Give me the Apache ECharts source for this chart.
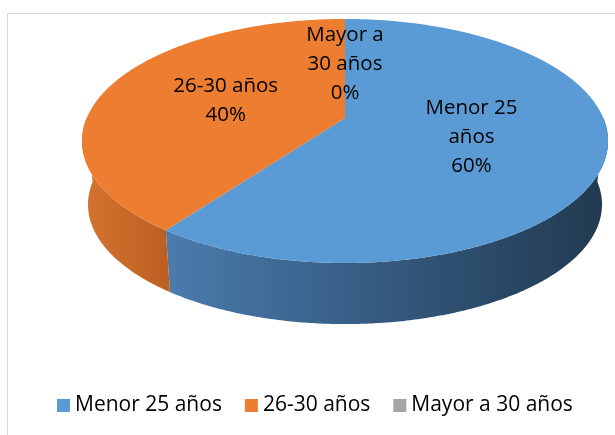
<!DOCTYPE html>
<html>
<head>
<meta charset="utf-8">
<script src="https://cdn.jsdelivr.net/npm/echarts@6/dist/echarts.min.js"></script>
<style>
  html, body { margin: 0; padding: 0; background: #fff; }
  #chart { width: 615px; height: 435px; }
</style>
</head>
<body>
<div id="chart"></div>
<script>
// datos del gráfico
const categories = ['Menor 25 años', '26-30 años', 'Mayor a 30 años'];
const labelLines = ['Menor 25\naños', '26-30 años', 'Mayor a\n30 años'];
const values = [60, 40, 0];
const colors = ['#5b9bd5', '#ed7d31', '#a5a5a5'];

// geometría del pastel 3D (perspectiva)
const CX = 345, CY = 118;
const A = 258.3, B = 117.7, K = 0.1885;
const DEPTH = 64, A2 = 252.4, B2 = 115.3;
const FONT = '"Open Sans", "Noto Sans", sans-serif';

const sideFills = [
    { type: 'linear', x: 165, y: 0, x2: 605, y2: 0, global: true,
      colorStops: [{ offset: 0, color: '#4a7cad' }, { offset: 0.5, color: '#35597f' }, { offset: 1, color: '#213a50' }] },
    { type: 'linear', x: 82, y: 0, x2: 172, y2: 0, global: true,
      colorStops: [{ offset: 0, color: '#d47431' }, { offset: 1, color: '#bc5e21' }] },
    '#7f7f7f'
];

const total = values.reduce((s, v) => s + v, 0);

function project(theta, r, bottom) {
    const u = Math.sin(theta) * r;
    const v = -Math.cos(theta) * r;
    const w = 1 - K * v;
    return bottom ? [CX + A2 * u / w, CY + DEPTH + B2 * v / w] : [CX + A * u / w, CY + B * v / w];
}

function arc(a, b, bottom) {
    const pts = [];
    const n = Math.max(2, Math.ceil(Math.abs(b - a) / (Math.PI / 360)));
    for (let i = 0; i <= n; i++) {
        pts.push(project(a + (b - a) * i / n, 1, bottom));
    }
    return pts;
}

function makeRender(idx) {
    return function (params, api) {
        const before = values.slice(0, idx).reduce((s, v) => s + v, 0);
        const start = before / total * Math.PI * 2;
        const end = start + api.value(0) / total * Math.PI * 2;
        const children = [];

        // pared lateral (solo la parte frontal)
        const a = Math.max(start, Math.PI / 2);
        const b = Math.min(end, Math.PI * 3 / 2);
        if (b > a) {
            const side = arc(a, b, false).concat(arc(a, b, true).reverse());
            children.push({ type: 'polygon', shape: { points: side }, style: { fill: sideFills[idx] } });
        }
        // cara superior
        if (end > start) {
            const top = [project(0, 0, false)].concat(arc(start, end, false));
            children.push({ type: 'polygon', shape: { points: top }, style: { fill: colors[idx] } });
        }
        // etiqueta
        const mid = (start + end) / 2;
        const p = project(mid, 0.5, false);
        const pct = Math.round(api.value(0) / total * 100) + '%';
        children.push({
            type: 'text',
            style: {
                text: labelLines[idx] + '\n' + pct,
                x: p[0], y: p[1],
                align: 'center', verticalAlign: 'middle',
                fontSize: 20.5, fontFamily: FONT, lineHeight: 29, fill: '#000'
            }
        });
        return { type: 'group', children: children };
    };
}

const chart = echarts.init(document.getElementById('chart'), null, { renderer: 'canvas' });
chart.setOption({
    animation: false,
    color: colors,
    graphic: [{
        type: 'rect', z: -10,
        shape: { x: 7.5, y: 13.5, width: 700, height: 500 },
        style: { fill: 'none', stroke: '#d9d9d9', lineWidth: 1 }
    }],
    legend: {
        data: categories,
        left: 57, top: 395, padding: 0,
        icon: 'rect', itemWidth: 13, itemHeight: 13, itemGap: 23,
        selectedMode: false,
        textStyle: { fontSize: 21, fontFamily: FONT, color: '#000', lineHeight: 20 }
    },
    series: categories.map((name, i) => ({
        type: 'custom',
        name: name,
        coordinateSystem: 'none',
        silent: true,
        itemStyle: { color: colors[i] },
        renderItem: makeRender(i),
        data: [values[i]]
    }))
});
</script>
</body>
</html>
